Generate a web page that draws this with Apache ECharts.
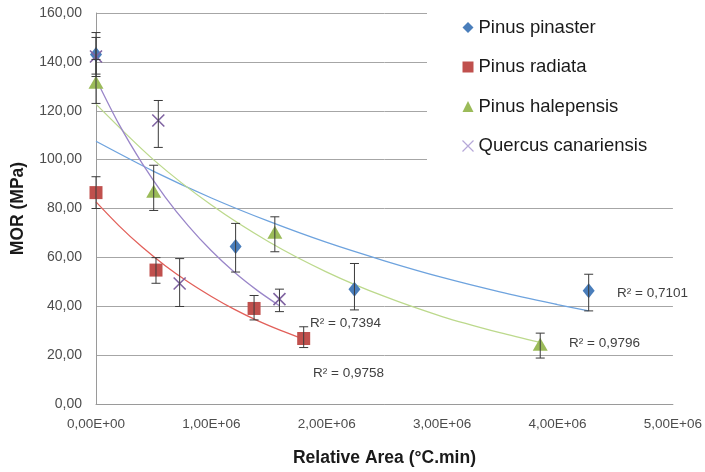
<!DOCTYPE html>
<html>
<head>
<meta charset="utf-8">
<script src="https://cdn.jsdelivr.net/npm/echarts@6/dist/echarts.min.js"></script>
<style>
  html, body { margin: 0; padding: 0; background: #fff; }
  #chart { width: 705px; height: 472px; }
</style>
</head>
<body>
<div id="chart"></div>
<script>
// ---- data ----
const yTicks = [0, 20, 40, 60, 80, 100, 120, 140, 160]
const xTicks = [0, 1e6, 2e6, 3e6, 4e6, 5e6]

// Pinus pinaster
const pinasterX = [0, 1.21e6, 2.24e6, 4.27e6]
const pinasterY = [143, 64.5, 47, 46.3]
const pinasterLow = [134, 54, 38.5, 38.1]
const pinasterHigh = [152, 73.9, 57.5, 53.1]

// Pinus radiata
const radiataX = [0, 0.52e6, 1.37e6, 1.8e6]
const radiataY = [86.5, 54.8, 39.1, 26.8]
const radiataLow = [80, 49.4, 34.4, 23.1]
const radiataHigh = [93, 59.9, 44.4, 31.6]

// Pinus halepensis
const halepensisX = [0, 0.5e6, 1.55e6, 3.85e6]
const halepensisY = [131.7, 87.1, 70.3, 24.5]
const halepensisLow = [123, 79.2, 62.3, 18.8]
const halepensisHigh = [141, 97.7, 76.6, 29]

// Quercus canariensis
const quercusX = [0, 0.54e6, 0.725e6, 1.59e6]
const quercusY = [142.2, 116, 49.3, 42.9]
const quercusLow = [135, 105, 39.9, 37.8]
const quercusHigh = [150, 124.2, 59.5, 47]

// trendlines
const trendPinasterX = [0, 0.5e6, 1e6, 1.5e6, 2e6, 2.5e6, 3e6, 3.5e6, 4e6, 4.27e6]
const trendPinasterY = [107.5, 95.2, 84.3, 74.7, 66.1, 58.6, 51.8, 45.9, 40.7, 38.1]
const trendRadiataX = [0, 0.2e6, 0.4e6, 0.6e6, 0.8e6, 1e6, 1.2e6, 1.4e6, 1.6e6, 1.8e6]
const trendRadiataY = [82.7, 72.9, 64.2, 56.6, 49.9, 44.0, 38.7, 34.1, 30.1, 26.5]
const trendHalepensisX = [0, 0.5e6, 1e6, 1.5e6, 2e6, 2.5e6, 3e6, 3.5e6, 3.85e6]
const trendHalepensisY = [122.7, 99.9, 81.4, 66.3, 54.0, 44.0, 35.8, 29.2, 25.2]
const trendQuercusX = [0, 0.2e6, 0.4e6, 0.6e6, 0.8e6, 1e6, 1.2e6, 1.4e6, 1.59e6]
const trendQuercusY = [133, 114.4, 98.5, 84.7, 72.9, 62.7, 53.9, 46.4, 40.2]

const r2Labels = ['R² = 0,7101', 'R² = 0,9758', 'R² = 0,9796', 'R² = 0,7394']

const names = ['Pinus pinaster', 'Pinus radiata', 'Pinus halepensis', 'Quercus canariensis']
const colors = ['#4a7ebb', '#c0504d', '#9bbb59', '#8064a2']
const trendColors = ['#6ea3de', '#e2605a', '#bcd98c', '#9a86c9']

function pairs (xs, ys) {
  return xs.map((x, i) => [x, ys[i]])
}
function bars (xs, lo, hi) {
  return xs.map((x, i) => [x, lo[i], hi[i]])
}

// error bar drawn as a vertical line with caps
function renderErr (params, api) {
  const top = api.coord([api.value(0), api.value(2)])
  const bot = api.coord([api.value(0), api.value(1)])
  const w = 4.5
  const st = { stroke: '#3a3a3a', lineWidth: 1 }
  return {
    type: 'group',
    children: [
      { type: 'line', shape: { x1: top[0], y1: top[1], x2: bot[0], y2: bot[1] }, style: st },
      { type: 'line', shape: { x1: top[0] - w, y1: top[1], x2: top[0] + w, y2: top[1] }, style: st },
      { type: 'line', shape: { x1: bot[0] - w, y1: bot[1], x2: bot[0] + w, y2: bot[1] }, style: st }
    ]
  }
}

function fmtY (v) {
  return v.toFixed(2).replace('.', ',')
}
function fmtX (v) {
  if (v === 0) return '0,00E+00'
  return (v / 1e6).toFixed(2).replace('.', ',') + 'E+06'
}

const crossPath = 'path://M0,0L10,10M10,0L0,10'
const font = 'Liberation Sans, Arial, sans-serif'

const chart = echarts.init(document.getElementById('chart'))

const pts = [
  pairs(pinasterX, pinasterY), pairs(radiataX, radiataY),
  pairs(halepensisX, halepensisY), pairs(quercusX, quercusY)
]
const errs = [
  bars(pinasterX, pinasterLow, pinasterHigh), bars(radiataX, radiataLow, radiataHigh),
  bars(halepensisX, halepensisLow, halepensisHigh), bars(quercusX, quercusLow, quercusHigh)
]
const trends = [
  pairs(trendPinasterX, trendPinasterY), pairs(trendRadiataX, trendRadiataY),
  pairs(trendHalepensisX, trendHalepensisY), pairs(trendQuercusX, trendQuercusY)
]
const symbols = ['diamond', 'rect', 'triangle', crossPath]
const sizes = [[12, 15], 13, [15, 13], 12]

let series = []
// trendlines first, below everything
trends.forEach((d, i) => {
  series.push({
    name: 'trend' + i,
    type: 'line',
    data: d,
    smooth: 0.3,
    showSymbol: false,
    silent: true,
    z: 1,
    lineStyle: { color: trendColors[i], width: 1.3 }
  })
})
pts.forEach((d, i) => {
  let s = {
    name: names[i],
    type: 'scatter',
    data: d,
    symbol: symbols[i],
    symbolSize: sizes[i],
    clip: false,
    z: 3,
    itemStyle: { color: colors[i], opacity: 1 }
  }
  if (i === 3) {
    s.itemStyle = { color: 'none', borderColor: colors[i], borderWidth: 1.6, opacity: 1 }
  }
  series.push(s)
})
errs.forEach((d, i) => {
  series.push({
    name: 'err' + i,
    type: 'custom',
    data: d,
    renderItem: renderErr,
    encode: { x: 0, y: [1, 2] },
    clip: false,
    silent: true,
    z: 4
  })
})

const option = {
  animation: false,
  backgroundColor: '#fff',
  textStyle: { fontFamily: font },
  grid: { left: 96, right: 30, top: 13, bottom: 67 },
  legend: {
    orient: 'vertical',
    left: 427,
    top: 0,
    padding: [18, 40, 8, 33],
    itemGap: 20.5,
    itemWidth: 11,
    itemHeight: 11,
    backgroundColor: '#fff',
    textStyle: { fontSize: 18.5, color: '#1a1a1a', fontFamily: font, lineHeight: 16 },
    data: [
      { name: names[0], icon: 'diamond' },
      { name: names[1], icon: 'rect' },
      { name: names[2], icon: 'triangle' },
      { name: names[3], icon: crossPath, itemStyle: { color: 'none', borderColor: '#b6a8d8', borderWidth: 1.2 } }
    ]
  },
  xAxis: {
    type: 'value',
    min: xTicks[0],
    max: xTicks[xTicks.length - 1],
    interval: 1e6,
    name: 'Relative Area (°C.min)',
    nameLocation: 'middle',
    nameGap: 45,
    nameTextStyle: { fontSize: 17.5, fontWeight: 'bold', color: '#1a1a1a', fontFamily: font },
    axisLine: { lineStyle: { color: '#9a9a9a' } },
    axisTick: { show: false },
    splitLine: { show: false },
    axisLabel: { formatter: fmtX, fontSize: 13.5, color: '#4d4d4d', margin: 13, fontFamily: font }
  },
  yAxis: {
    type: 'value',
    min: yTicks[0],
    max: yTicks[yTicks.length - 1],
    interval: 20,
    name: 'MOR (MPa)',
    nameLocation: 'middle',
    nameGap: 69,
    nameTextStyle: { fontSize: 17.5, fontWeight: 'bold', color: '#1a1a1a', fontFamily: font },
    axisLine: { show: true, lineStyle: { color: '#9a9a9a' } },
    axisTick: { show: false },
    splitLine: { lineStyle: { color: '#a6a6a6' } },
    axisLabel: { formatter: fmtY, fontSize: 14, color: '#4d4d4d', margin: 14, fontFamily: font }
  },
  graphic: [
    { type: 'text', left: 617, top: 286, style: { text: r2Labels[0], fontSize: 13.5, fill: '#404040', fontFamily: font } },
    { type: 'text', left: 313, top: 366, style: { text: r2Labels[1], fontSize: 13.5, fill: '#404040', fontFamily: font } },
    { type: 'text', left: 569, top: 336, style: { text: r2Labels[2], fontSize: 13.5, fill: '#404040', fontFamily: font } },
    { type: 'text', left: 310, top: 316, style: { text: r2Labels[3], fontSize: 13.5, fill: '#404040', fontFamily: font } }
  ],
  series: series
}

chart.setOption(option)
</script>
</body>
</html>
